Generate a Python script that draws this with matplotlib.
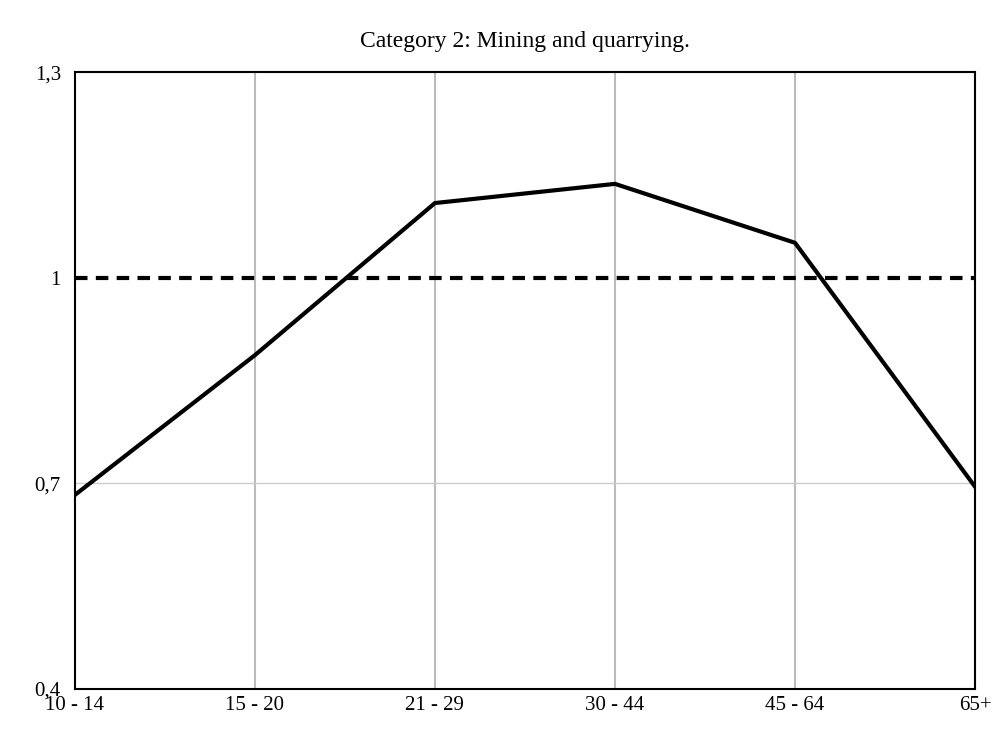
import matplotlib
matplotlib.use('Agg')
import matplotlib.pyplot as plt

categories = ['10 - 14', '15 - 20', '21 - 29', '30 - 44', '45 - 64', '65+']
values = [0.683, 0.887, 1.109, 1.137, 1.051, 0.695]
yticks = [0.4, 0.7, 1.0, 1.3]
ytick_labels = ['0,4', '0,7', '1', '1,3']
reference = 1.0

plt.rcParams['font.family'] = ['Liberation Serif', 'DejaVu Serif']

fig = plt.figure(figsize=(9.98, 7.29), dpi=100)
ax = fig.add_axes([0.075, 0.055, 0.902, 0.846])
x = list(range(len(categories)))

for xi in x[1:-1]:
    ax.axvline(xi, color='#bbbbbb', lw=1.5, zorder=1)
ax.axhline(0.7, color='#cccccc', lw=1, zorder=1)
ax.axhline(reference, color='black', lw=3, ls=(0, (3, 2)), zorder=2)
ax.plot(x, values, color='black', lw=3, zorder=3)

ax.set_xlim(0, len(categories) - 1)
ax.set_ylim(0.4, 1.3)
ax.set_xticks(x)
ax.set_xticklabels(categories, fontsize=15)
ax.set_yticks(yticks)
ax.set_yticklabels(ytick_labels, fontsize=15)
ax.tick_params(axis='x', length=0, pad=5)
ax.tick_params(axis='y', length=0, pad=10)
for s in ax.spines.values():
    s.set_linewidth(1.5)
ax.set_title('Category 2: Mining and quarrying.', fontsize=17, pad=18)

fig.savefig('out.png')
